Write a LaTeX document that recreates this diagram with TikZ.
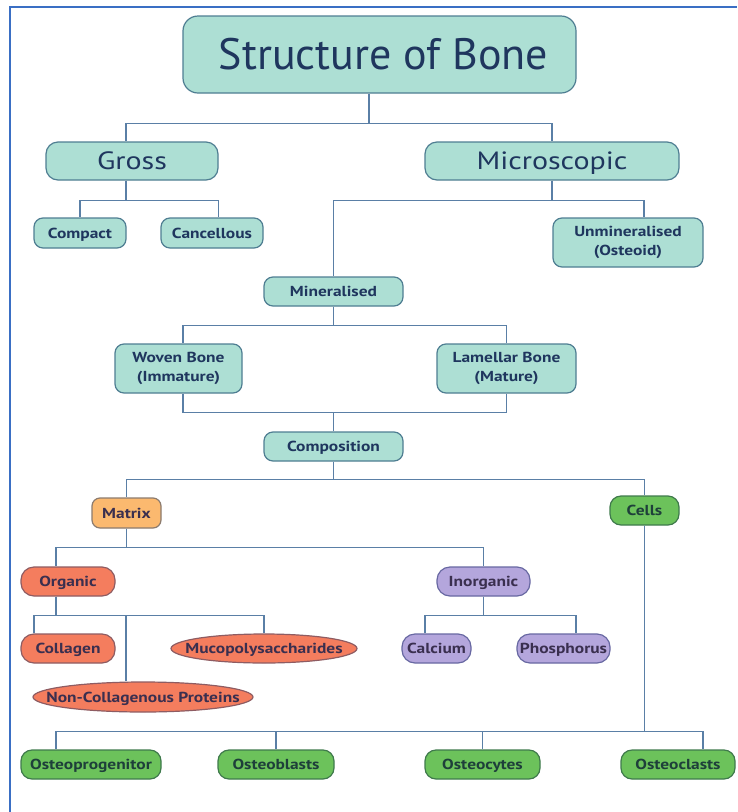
\documentclass[tikz,border=0pt]{standalone}
\usepackage{fontspec}
\setmainfont{PT Sans}
\newfontfamily\widefont{PT Sans}[FakeStretch=1.2]
\definecolor{tealfill}{HTML}{ADDFD4}
\definecolor{tealdraw}{HTML}{4F7E92}
\definecolor{txt}{HTML}{1F365E}
\definecolor{conncol}{HTML}{5A7FA6}
\definecolor{framecol}{HTML}{3A6FC4}
\definecolor{orfill}{HTML}{FBB96F}
\definecolor{ordraw}{HTML}{8C7B6E}
\definecolor{redfill}{HTML}{F47D5E}
\definecolor{reddraw}{HTML}{8E5C62}
\definecolor{purfill}{HTML}{B4A6DC}
\definecolor{purdraw}{HTML}{6868A2}
\definecolor{grnfill}{HTML}{6CC25B}
\definecolor{grndraw}{HTML}{3F7A4C}
\definecolor{darktxt}{HTML}{3A2F4F}
\definecolor{grntxt}{HTML}{1E3F3A}
\tikzset{
  base/.style={draw, line width=1.2pt, inner sep=0pt, align=center, text=txt, text height=13pt, text depth=3pt, font=\widefont\bfseries\fontsize{14.5}{18.5}\selectfont},
  twoline/.style={text height={}, text depth={}},
  tealbox/.style={base, fill=tealfill, draw=tealdraw, rounded corners=9pt},
  bigbox/.style={tealbox, rounded corners=12pt, text height=21pt, text depth=4pt, font=\widefont\fontsize{25}{28}\selectfont},
  orbox/.style={base, fill=orfill, draw=ordraw, rounded corners=8pt, text=darktxt},
  redbox/.style={base, fill=redfill, draw=reddraw, rounded corners=13pt, text=darktxt},
  redtext/.style={base, draw=none, text=darktxt},
  ellshape/.style={fill=redfill, draw=reddraw, line width=1.2pt},
  purbox/.style={base, fill=purfill, draw=purdraw, rounded corners=13pt, text=darktxt},
  grnbox/.style={base, fill=grnfill, draw=grndraw, rounded corners=11pt, text=grntxt},
  conn/.style={draw=conncol, line width=1.1pt},
}
\begin{document}
\begin{tikzpicture}[x=1pt,y=-1pt]
\useasboundingbox (0,0) rectangle (737,812);
\fill[white] (0,0) rectangle (737,812);
\draw[framecol, line width=1.6pt] (10,812) -- (10,7) -- (737,7);

\node[tealbox, rounded corners=15pt, minimum width=393pt, minimum height=77pt, text height=36pt, text depth=6pt, font=\fontsize{44}{48}\selectfont] (title) at (379.5,54.5) {\hspace*{8pt}Structure of Bone};
\node[bigbox, minimum width=172pt, minimum height=38pt] (gross) at (132,161) {Gross};
\node[bigbox, minimum width=254pt, minimum height=38pt] (micro) at (552,161) {Microscopic};
\node[tealbox, minimum width=92pt, minimum height=30pt] (compact) at (80,233) {Compact};
\node[tealbox, minimum width=102pt, minimum height=30pt] (cancel) at (212,233) {Cancellous};
\node[tealbox, twoline, minimum width=150pt, minimum height=49pt] (unmin) at (628,242.5) {Unmineralised\\(Osteoid)};
\node[tealbox, minimum width=139pt, minimum height=29pt] (miner) at (333.5,291.5) {Mineralised};
\node[tealbox, twoline, minimum width=127pt, minimum height=49pt] (woven) at (178.5,368.5) {Woven Bone\\(Immature)};
\node[tealbox, twoline, minimum width=139pt, minimum height=49pt] (lamel) at (506.5,368.5) {Lamellar Bone\\(Mature)};
\node[tealbox, minimum width=139pt, minimum height=29pt] (comp) at (333.5,446.5) {Composition};
\node[orbox, minimum width=69pt, minimum height=30pt] (matrix) at (126.5,513) {Matrix};
\node[grnbox, minimum width=69pt, minimum height=29pt] (cells) at (644.5,510.5) {Cells};
\node[redbox, minimum width=94pt, minimum height=29pt] (organic) at (68,581.5) {Organic};
\node[purbox, minimum width=93pt, minimum height=29pt] (inorganic) at (483.5,581.5) {Inorganic};
\node[redbox, minimum width=94pt, minimum height=29pt] (collagen) at (68,648.5) {Collagen};
\path[ellshape] (264,648.5) ellipse [x radius=93pt, y radius=14.5pt];
\node[redtext, minimum width=186pt, minimum height=29pt] (muco) at (264,648.5) {Mucopolysaccharides};
\path[ellshape] (143,697) ellipse [x radius=110pt, y radius=15pt];
\node[redtext, minimum width=220pt, minimum height=30pt] (noncol) at (143,697) {Non-Collagenous Proteins};
\node[purbox, minimum width=69pt, minimum height=29pt] (calcium) at (436.5,648.5) {Calcium};
\node[purbox, minimum width=93pt, minimum height=29pt] (phos) at (563.5,648.5) {Phosphorus};
\node[grnbox, minimum width=140pt, minimum height=29pt] (oprog) at (91,764.5) {Osteoprogenitor};
\node[grnbox, minimum width=116pt, minimum height=29pt] (oblast) at (276,764.5) {Osteoblasts};
\node[grnbox, minimum width=115pt, minimum height=29pt] (ocyte) at (482.5,764.5) {Osteocytes};
\node[grnbox, minimum width=114pt, minimum height=29pt] (oclast) at (678,764.5) {Osteoclasts};

% connectors
\draw[conn] ([xshift=-10.5pt]title.south) -- ++(0,30) -| ([xshift=-6pt]gross.north);
\draw[conn] ([xshift=-10.5pt]title.south) -- ++(0,30) -| (micro.north);
\draw[conn] ([xshift=-6pt]gross.south) -- ++(0,20) -| (compact.north);
\draw[conn] ([xshift=-6pt]gross.south) -- ++(0,20) -| ([xshift=6.5pt]cancel.north);
\draw[conn] (micro.south) -- ++(0,20) -| (miner.north);
\draw[conn] (micro.south) -- ++(0,20) -| ([xshift=16pt]unmin.north);
\draw[conn] (miner.south) -- ++(0,19) -| ([xshift=4.5pt]woven.north);
\draw[conn] (miner.south) -- ++(0,19) -| (lamel.north);
\draw[conn] ([xshift=4.5pt]woven.south) -- ++(0,19) -| (comp.north);
\draw[conn] (lamel.south) -- ++(0,19) -| (comp.north);
\draw[conn] (comp.south) -- ++(0,18) -| (matrix.north);
\draw[conn] (comp.south) -- ++(0,18) -| (cells.north);
\draw[conn] (matrix.south) -- ++(0,19) -| ([xshift=-12pt]organic.north);
\draw[conn] (matrix.south) -- ++(0,19) -| (inorganic.north);
\draw[conn] ([xshift=-12pt]organic.south) -- ++(0,19) -| ([xshift=-34pt]collagen.north);
\draw[conn] ([xshift=-12pt]organic.south) -- ++(0,19) -| ([xshift=-17pt]noncol.north);
\draw[conn] ([xshift=-12pt]organic.south) -- ++(0,19) -| (muco.north);
\draw[conn] (inorganic.south) -- ++(0,19) -| ([xshift=-11.5pt]calcium.north);
\draw[conn] (inorganic.south) -- ++(0,19) -| ([xshift=12.5pt]phos.north);
\draw[conn] (cells.south) -- ++(0,206) -| ([xshift=-35pt]oprog.north);
\draw[conn] (cells.south) -- ++(0,206) -| (oblast.north);
\draw[conn] (cells.south) -- ++(0,206) -| (ocyte.north);
\draw[conn] (cells.south) -- ++(0,206) -| ([xshift=25pt]oclast.north);
\end{tikzpicture}
\end{document}
